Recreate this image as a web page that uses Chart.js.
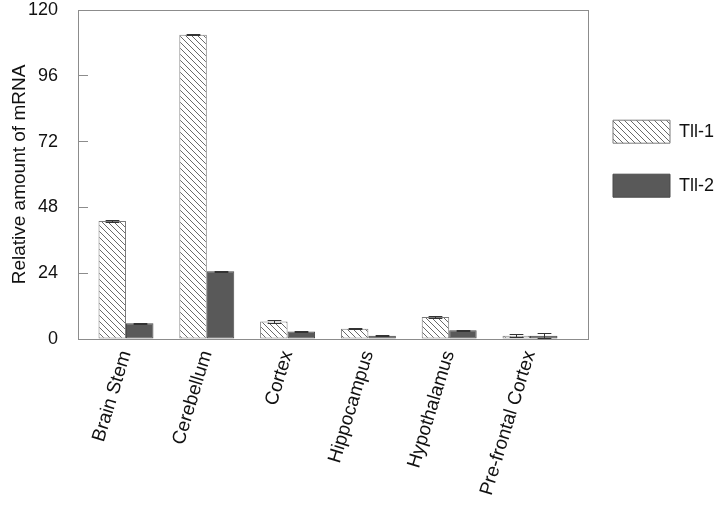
<!DOCTYPE html>
<html>
<head>
<meta charset="utf-8">
<script src="https://cdn.jsdelivr.net/npm/chart.js@4.4.0/dist/chart.umd.min.js"></script>
<style>
  html, body { margin: 0; padding: 0; background: #fff; }
  #wrap { width: 726px; height: 509px; }
</style>
</head>
<body>
<div id="wrap"><canvas id="mrnaChart" width="726" height="509"></canvas></div>
<script>
const regions = ['Brain Stem', 'Cerebellum', 'Cortex', 'Hippocampus', 'Hypothalamus', 'Pre-frontal Cortex'];
const tll1 = [43.0, 111.0, 6.4, 3.7, 8.0, 1.2];
const tll2 = [5.7, 24.7, 2.7, 1.2, 3.2, 1.2];
const tll1Err = [0.5, 0.3, 0.6, 0.2, 0.3, 0.5];
const tll2Err = [0.2, 0.2, 0.3, 0.1, 0.2, 0.9];
const yTicks = [0, 24, 48, 72, 96, 120];

const FONT = '"Liberation Sans", Arial, sans-serif';
const lineCol = '#8c8c8c';

// diagonal hatch for Tll-1
function hatch() {
  const c = document.createElement('canvas');
  c.width = 6; c.height = 6;
  const g = c.getContext('2d');
  g.fillStyle = '#fff';
  g.fillRect(0, 0, 6, 6);
  g.strokeStyle = '#6a6a6a';
  g.lineWidth = 1;
  g.beginPath();
  g.moveTo(-1, -1); g.lineTo(7, 7);
  g.moveTo(-1, 5); g.lineTo(1, 7);
  g.moveTo(5, -1); g.lineTo(7, 1);
  g.stroke();
  return g.createPattern(c, 'repeat');
}

const frame = {
  id: 'frame',
  beforeDatasetsDraw(chart) {
    const { ctx, chartArea: a } = chart;
    ctx.save();
    ctx.strokeStyle = lineCol;
    ctx.lineWidth = 1;
    ctx.strokeRect(Math.round(a.left) + 0.5, Math.round(a.top) + 0.5, Math.round(a.width), Math.round(a.height));
    ctx.restore();
  }
};

const errorBars = {
  id: 'errorBars',
  afterDatasetsDraw(chart) {
    const { ctx, scales: { y } } = chart;
    const errs = [tll1Err, tll2Err];
    ctx.save();
    ctx.strokeStyle = '#333';
    ctx.lineWidth = 1;
    chart.data.datasets.forEach((ds, d) => {
      chart.getDatasetMeta(d).data.forEach((bar, i) => {
        const v = ds.data[i].y;
        const t = Math.round(y.getPixelForValue(v + errs[d][i])) + 0.5;
        const b = Math.round(y.getPixelForValue(Math.max(0, v - errs[d][i]))) + 0.5;
        const x = Math.round(bar.x) + 0.5;
        const half = bar.width * 0.25;
        ctx.beginPath();
        ctx.moveTo(x, t); ctx.lineTo(x, b);
        ctx.moveTo(x - half, t); ctx.lineTo(x + half, t);
        ctx.moveTo(x - half, b); ctx.lineTo(x + half, b);
        ctx.stroke();
      });
    });
    ctx.restore();
  }
};

const mrnaChart = new Chart(document.getElementById('mrnaChart'), {
  type: 'bar',
  data: {
    datasets: [{
      label: 'Tll-1',
      data: tll1.map((v, i) => ({ x: i, y: v })),
      backgroundColor: hatch(),
      borderColor: '#7a7a7a',
      borderWidth: 1,
      borderSkipped: false
    }, {
      label: 'Tll-2',
      data: tll2.map((v, i) => ({ x: i, y: v })),
      backgroundColor: '#595959',
      borderColor: '#4a4a4a',
      borderWidth: 1,
      borderSkipped: false
    }]
  },
  options: {
    responsive: false,
    animation: false,
    devicePixelRatio: 1,
    categoryPercentage: 0.68,
    barPercentage: 1.0,
    layout: { padding: { left: 0, right: 2, top: 10, bottom: 0 } },
    scales: {
      x: {
        type: 'linear',
        offset: false,
        min: -0.594,
        max: 5.718,
        afterBuildTicks: scale => { scale.ticks = regions.map((r, i) => ({ value: i })); },
        afterFit: scale => { scale.paddingLeft = 0; scale.paddingRight = 0; scale.height = 170; },
        grid: { display: false, drawTicks: false },
        border: { display: false },
        ticks: {
          autoSkip: false,
          minRotation: 73,
          maxRotation: 73,
          padding: 9,
          color: '#111',
          font: { family: FONT, size: 19 },
          callback: v => regions[v]
        }
      },
      y: {
        min: 0,
        max: 120,
        afterBuildTicks: scale => { scale.ticks = yTicks.map(v => ({ value: v })); },
        afterFit: scale => { scale.paddingTop = 0; scale.paddingBottom = 0; scale.width = 78; },
        grid: { drawOnChartArea: false, drawTicks: true, tickLength: -10, color: lineCol },
        border: { display: false },
        ticks: { padding: 30, color: '#111', font: { family: FONT, size: 18 } },
        title: {
          display: true,
          text: 'Relative amount of mRNA',
          color: '#111',
          font: { family: FONT, size: 19 },
          padding: { top: 8, bottom: 0 }
        }
      }
    },
    plugins: {
      tooltip: { enabled: false },
      legend: {
        position: 'right',
        align: 'start',
        title: { display: true, text: ' ', font: { size: 1 }, padding: { top: 84, bottom: 0 } },
        labels: {
          boxWidth: 57,
          boxHeight: 23,
          padding: 25,
          color: '#111',
          font: { family: FONT, size: 18, lineHeight: '29px' },
          generateLabels: chart => Chart.defaults.plugins.legend.labels.generateLabels(chart)
            .map(item => Object.assign(item, { text: [item.text] }))
        }
      }
    }
  },
  plugins: [frame, errorBars]
});
</script>
</body>
</html>
